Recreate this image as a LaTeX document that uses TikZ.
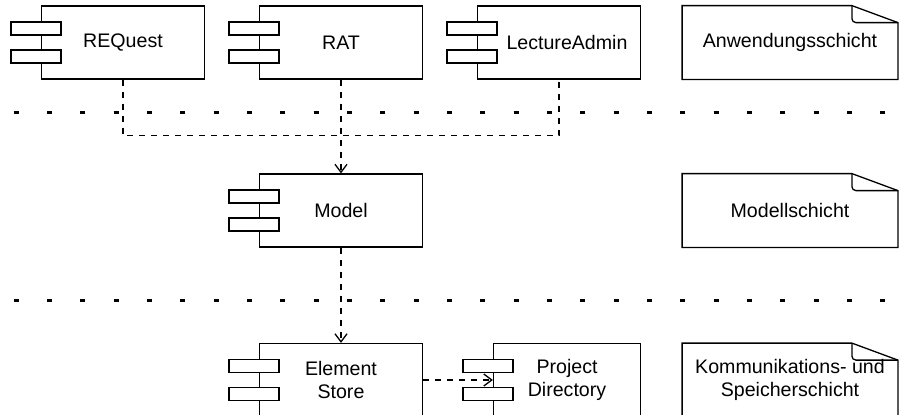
\documentclass[tikz,border=0pt]{standalone}
\usepackage{fontspec}
\setmainfont{Liberation Sans}
\usetikzlibrary{arrows.meta,positioning}

\tikzset{
	component/.style={draw, line width=0.65pt, minimum width=81.5pt, minimum height=36.5pt,
		align=center, font=\fontsize{9.8pt}{11.5pt}\selectfont},
	tab/.style={draw, fill=white, line width=0.65pt},
	layer/.style={minimum width=107.5pt, minimum height=36.5pt, align=center,
		font=\fontsize{9.8pt}{11.5pt}\selectfont},
	dep/.style={draw, dashed, line width=0.65pt},
	separator/.style={line width=1.5pt, dash pattern=on 2.5pt off 14.17pt}
}

\begin{document}
\begin{tikzpicture}[node distance=109pt]

		\path[use as bounding box, clip] (0,0) rectangle (455.5pt,-207pt);

		% layer separators
		\foreach \y in {56.35,150}
			\draw[separator] (6.75pt,-\y pt) -- (460pt,-\y pt);

		%application layer
		\node[component] (req) at (61.5pt,-21.25pt) {REQuest};
		\node[component, right of=req] (rat) {RAT};
		\node[component, right of=rat] (lect) {\hspace*{8pt}LectureAdmin};
		%model layer
		\node[component, below of=rat, node distance=84pt] (model) {Model};
		%storage layer
		\node[component, below of=model, node distance=84.75pt] (store) {Element\\Store};
		\node[component, right of=store, node distance=113pt, minimum width=73.5pt] (dir) {Project\\Directory};

		%layer notes
		\node[layer, right of=lect, node distance=115.5pt] (app) {Anwendungsschicht};
		\node[layer, below of=app, node distance=84pt] (mod) {Modellschicht};
		\node[layer, below of=mod, node distance=84.75pt] (komm) {Kommunikations- und\\Speicherschicht};

		% component tabs
		\foreach \c in {req,rat,lect,model,store,dir}{
			\draw[tab] ([xshift=-15pt,yshift=10.25pt]\c.west) rectangle ([xshift=10pt,yshift=3.75pt]\c.west);
			\draw[tab] ([xshift=-15pt,yshift=-3.75pt]\c.west) rectangle ([xshift=10pt,yshift=-10.25pt]\c.west);
		}

		% dog-eared notes
		\foreach \n in {app,mod,komm}{
			\draw[line width=0.65pt] (\n.north west) -- ([xshift=-23pt]\n.north east)
				-- ([yshift=-8.5pt]\n.north east) -- (\n.south east) -- (\n.south west) -- cycle;
			\draw[line width=0.65pt, rounded corners=2pt] ([xshift=-23pt]\n.north east)
				-- ([xshift=-23pt,yshift=-8.5pt]\n.north east) -- ([yshift=-8.5pt]\n.north east);
		}

		\coordinate[below=28pt of rat.south] (merge);

		\draw[dep] (req.south) |- (merge) -| (lect.south);
		\draw[dep, -{Straight Barb[length=4pt,width=6pt]}] (rat) -- (model);
		\draw[dep, -{Straight Barb[length=4pt,width=6pt]}] (model) -- (store);
		\draw[dep, -{Straight Barb[length=4pt,width=6pt]}] (store) -- (dir);

\end{tikzpicture}
\end{document}
